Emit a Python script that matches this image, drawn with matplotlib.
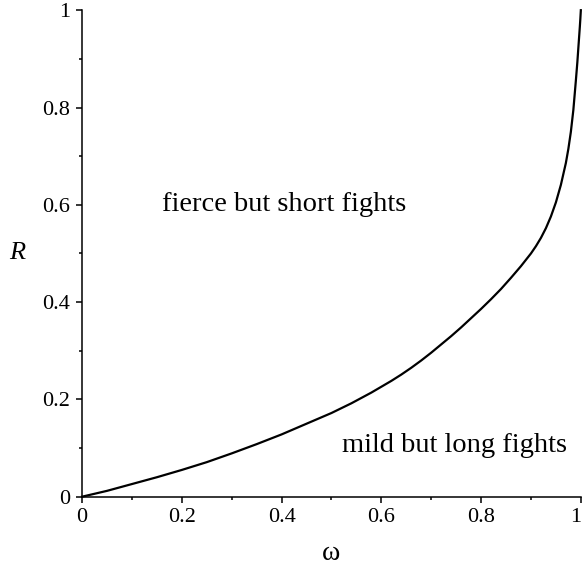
import matplotlib
matplotlib.use("Agg")
import matplotlib.pyplot as plt
from matplotlib.ticker import MultipleLocator

# boundary curve
omega = [0, 0.05, 0.1, 0.15, 0.2, 0.25, 0.3, 0.35, 0.4, 0.45, 0.5,
         0.52, 0.54, 0.56, 0.58, 0.6, 0.62, 0.64, 0.66, 0.68, 0.7,
         0.72, 0.74, 0.76, 0.78, 0.8, 0.82, 0.84, 0.86, 0.88, 0.9,
         0.91, 0.92, 0.93, 0.94, 0.95, 0.96, 0.97, 0.975, 0.98, 0.985,
         0.99, 0.993, 0.996, 0.998, 0.999, 1.0]
R = [0, 0.012, 0.026, 0.040, 0.055, 0.071, 0.089, 0.108, 0.128, 0.150, 0.172,
     0.182, 0.192, 0.203, 0.214, 0.226, 0.238, 0.251, 0.265, 0.280, 0.296,
     0.313, 0.330, 0.348, 0.367, 0.386, 0.406, 0.427, 0.450, 0.474, 0.500,
     0.515, 0.532, 0.552, 0.576, 0.605, 0.641, 0.686, 0.715, 0.750, 0.795,
     0.855, 0.893, 0.937, 0.966, 0.982, 1.0]

xticks = [0, 0.2, 0.4, 0.6, 0.8, 1]
xtick_labels = ["0", "0.2", "0.4", "0.6", "0.8", "1"]
yticks = [0, 0.2, 0.4, 0.6, 0.8, 1]
ytick_labels = ["0", "0.2", "0.4", "0.6", "0.8", "1"]

plt.rcParams['font.family'] = ['Liberation Serif', 'DejaVu Serif']

fig = plt.figure(figsize=(5.82, 5.67), dpi=100)
ax = fig.add_axes([0.141, 0.124, 0.857, 0.858])

ax.plot(omega, R, color='black', linewidth=1.6, clip_on=False)

ax.set_xlim(0, 1)
ax.set_ylim(0, 1)
ax.set_xticks(xticks)
ax.set_xticklabels(xtick_labels)
ax.set_yticks(yticks)
ax.set_yticklabels(ytick_labels)
ax.xaxis.set_minor_locator(MultipleLocator(0.1))
ax.yaxis.set_minor_locator(MultipleLocator(0.1))

for side in ['top', 'right']:
    ax.spines[side].set_visible(False)
for side in ['left', 'bottom']:
    ax.spines[side].set_linewidth(1.1)

ax.tick_params(which='major', direction='out', length=4.5, width=1.1, labelsize=16, pad=4)
ax.tick_params(which='minor', direction='out', length=2.5, width=1.1)
# keep the last x label inside the figure
ax.get_xticklabels()[-1].set_horizontalalignment('right')

ax.text(0.405, 0.6, "fierce but short fights", fontsize=20.5, ha='center', va='center')
ax.text(0.746, 0.105, "mild but long fights", fontsize=20.5, ha='center', va='center')

fig.text(0.03, 0.553, "R", fontsize=19, style='italic', ha='center', va='center')
fig.text(0.141 + 0.857 * 0.5, 0.024, "ω", fontsize=20, ha='center', va='center')

fig.savefig("out.png", dpi=100)
